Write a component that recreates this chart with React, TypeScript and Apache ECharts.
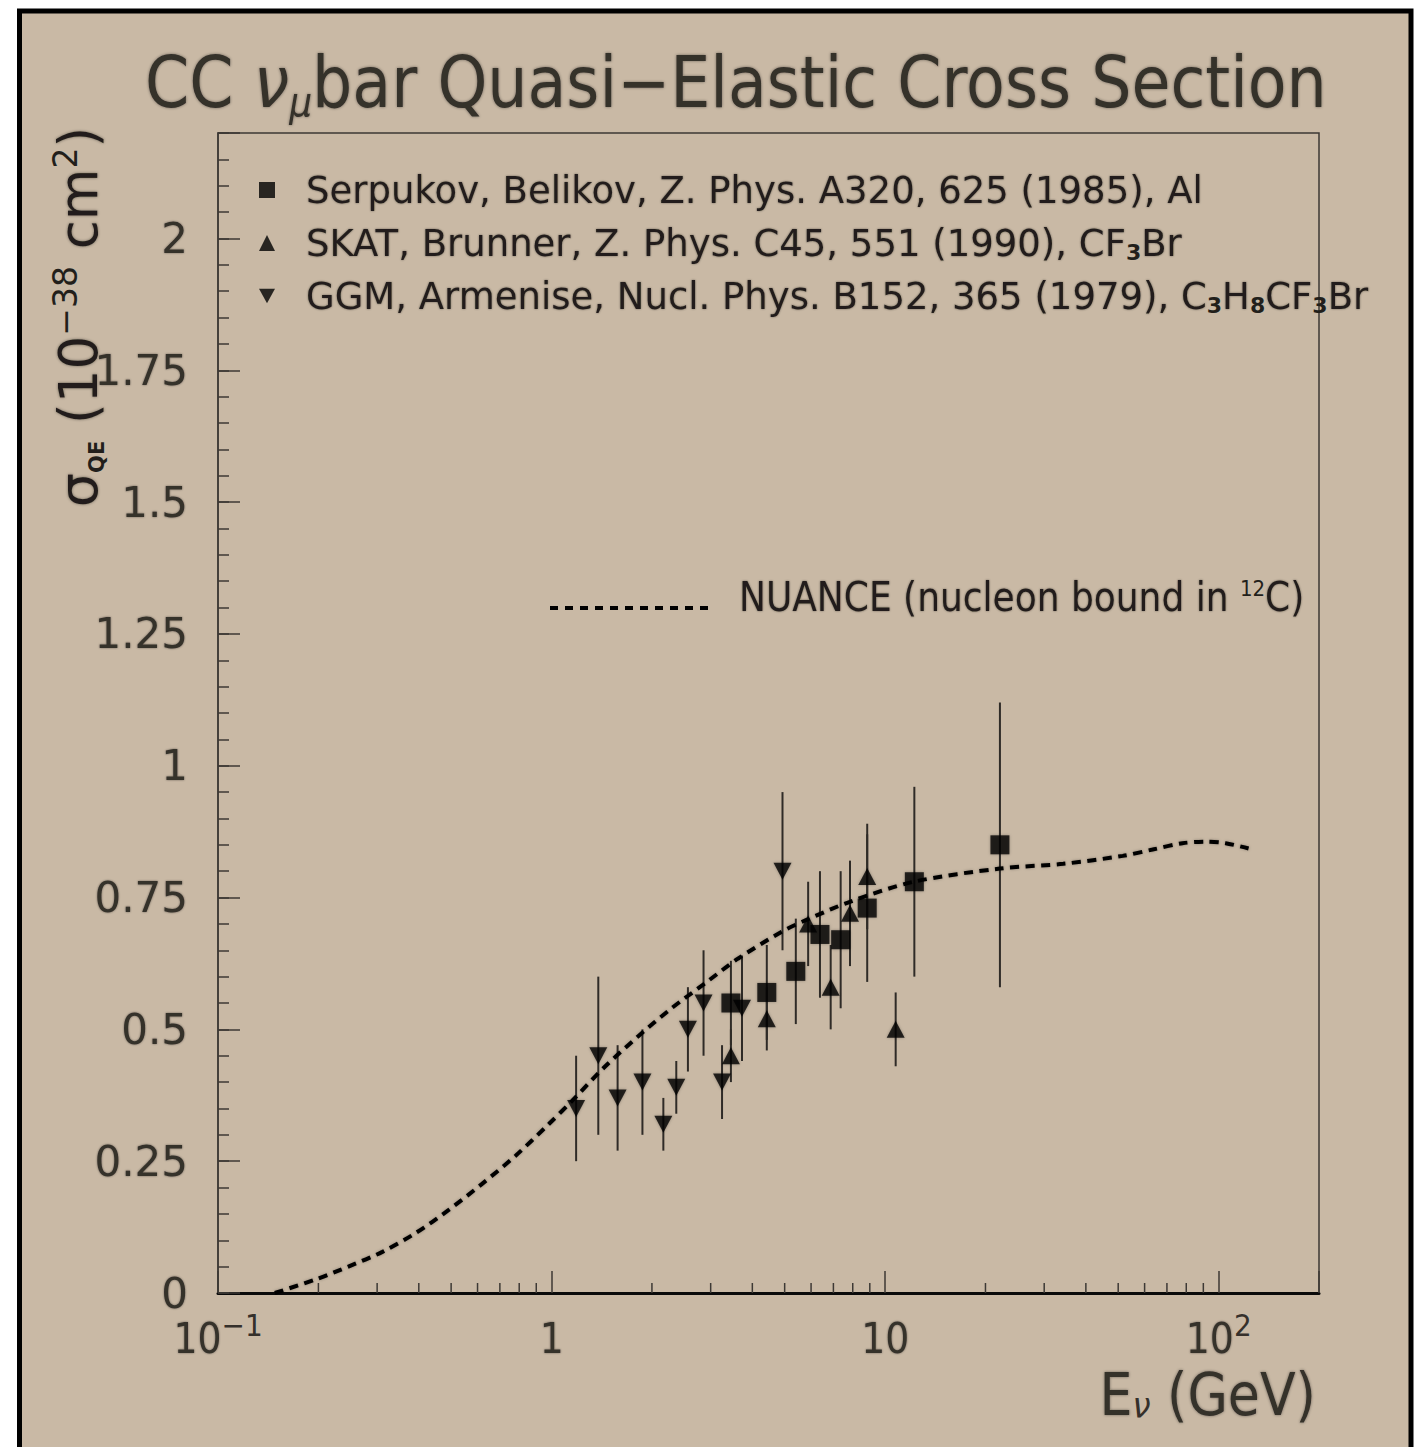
import React, { useEffect, useRef } from 'react';
import * as echarts from 'echarts';

// ---------- data ----------
const serpName = 'Serpukov, Belikov, Z. Phys. A320, 625 (1985), Al';
const skatName = 'SKAT, Brunner, Z. Phys. C45, 551 (1990), CF3Br';
const ggmName = 'GGM, Armenise, Nucl. Phys. B152, 365 (1979), C3H8CF3Br';
const nuanceName = 'NUANCE (nucleon bound in 12C)';

const serpE = [3.45, 4.42, 5.4, 6.38, 7.36, 8.84, 12.24, 22.1];
const serpS = [0.55, 0.57, 0.61, 0.68, 0.67, 0.73, 0.78, 0.85];
const serpErr = [0.08, 0.09, 0.1, 0.12, 0.13, 0.14, 0.18, 0.27];

const skatE = [3.45, 4.42, 5.88, 6.87, 7.85, 8.84, 10.76];
const skatS = [0.45, 0.52, 0.7, 0.58, 0.72, 0.79, 0.5];
const skatErr = [0.05, 0.06, 0.08, 0.08, 0.1, 0.1, 0.07];

const ggmE = [1.185, 1.381, 1.578, 1.873, 2.164, 2.366, 2.564, 2.856, 3.245, 3.724, 4.926];
const ggmS = [0.35, 0.45, 0.37, 0.4, 0.32, 0.39, 0.5, 0.55, 0.4, 0.54, 0.8];
const ggmErr = [0.1, 0.15, 0.1, 0.1, 0.05, 0.05, 0.08, 0.1, 0.07, 0.1, 0.15];

const nuanceE = [0.148, 0.197, 0.248, 0.311, 0.392, 0.493, 0.619, 0.779, 0.98, 1.15, 1.45, 1.82, 2.29, 2.88, 3.62, 4.93, 5.88, 7.85, 12.2, 22.1, 34.2, 51.6, 63.4, 77.9, 91.4, 105, 123];
const nuanceS = [0, 0.026, 0.051, 0.078, 0.114, 0.158, 0.207, 0.26, 0.32, 0.364, 0.43, 0.487, 0.54, 0.587, 0.634, 0.686, 0.709, 0.742, 0.78, 0.805, 0.814, 0.829, 0.841, 0.853, 0.856, 0.853, 0.843];

const xMinorTicks = [0.2, 0.3, 0.4, 0.5, 0.6, 0.7, 0.8, 0.9, 2, 3, 4, 5, 6, 7, 8, 9, 20, 30, 40, 50, 60, 70, 80, 90];
const xLabelValues = [0.1, 1, 10, 100];
const xLabels = ['{h| }{b|10}{s|−1}', '{h| }{b|1}', '{h| }{b|10}', '{h| }{b|10}{s|2}'];
const yLabels = ['0', '0.25', '0.5', '0.75', '1', '1.25', '1.5', '1.75', '2'];

const legendText: Record<string, string> = {
  [serpName]: '{t|Serpukov, Belikov, Z. Phys. A320, 625 (1985), Al}',
  [skatName]: '{t|SKAT, Brunner, Z. Phys. C45, 551 (1990), CF}{sub|3}{t|Br}',
  [ggmName]: '{t|GGM, Armenise, Nucl. Phys. B152, 365 (1979), C}{sub|3}{t|H}{sub|8}{t|CF}{sub|3}{t|Br}',
  [nuanceName]: '{n|NUANCE (nucleon bound in }{sup|12}{n|C)}',
};

// ---------- styles ----------
const WIDE = '"DejaVu Sans", Verdana, sans-serif';
const NARROW = '"DejaVu Sans Condensed", "Liberation Sans Narrow", "Liberation Sans", sans-serif';
const INK = '#221f1b';
const TINK = '#35302b';
const SH = 'rgba(30,20,10,0.45)';
const BG = '#c9b9a5';

export default function App() {
  const ref = useRef<HTMLDivElement>(null);
  useEffect(() => {
    if (!ref.current) return;
    const chart = echarts.init(ref.current, null, { renderer: 'svg' });

    const zip = (xs: number[], ys: number[]) => xs.map((x, i) => [x, ys[i]]);
    const errs = (xs: number[], ys: number[], es: number[]) => xs.map((x, i) => [x, ys[i] - es[i], ys[i] + es[i]]);
    const errData = [...errs(serpE, serpS, serpErr), ...errs(skatE, skatS, skatErr), ...errs(ggmE, ggmS, ggmErr)];

    const markerStyle = { color: '#000000', shadowBlur: 3, shadowColor: 'rgba(0,0,0,0.35)' };

    const option: any = {
      animation: false,
      backgroundColor: '#ffffff',
      title: {
        text: '{a|CC }{nu|ν}{mu|μ}{a|bar Quasi−Elastic Cross Section}',
        left: 145,
        top: 44,
        padding: 0,
        textStyle: {
          fontWeight: 'normal',
          rich: {
            a: { fontFamily: NARROW, fontWeight: 'normal', fontSize: 70.5, lineHeight: 78, color: TINK, textShadowBlur: 3, textShadowColor: SH },
            nu: { fontFamily: NARROW, fontWeight: 'normal', fontSize: 70.5, lineHeight: 78, fontStyle: 'italic', color: TINK, textShadowBlur: 3, textShadowColor: SH },
            mu: { fontFamily: NARROW, fontWeight: 'normal', fontSize: 40, lineHeight: 22, verticalAlign: 'bottom', fontStyle: 'italic', color: TINK, textShadowBlur: 3, textShadowColor: SH },
          },
        },
      },
      graphic: [
        {
          type: 'rect', z: -100, silent: true,
          shape: { x: 19.5, y: 11, width: 1391.5, height: 1500 },
          style: { fill: BG, stroke: '#000', lineWidth: 5 },
        },
        {
          type: 'text', x: 78, y: 317, rotation: Math.PI / 2, z: 10,
          style: {
            text: '{s|σ}{sub|QE}{n| (10}{sup|−38}{n| cm}{sup|2}{n|)}',
            align: 'center', verticalAlign: 'middle',
            rich: {
              s: { fontFamily: WIDE, fontSize: 54, lineHeight: 58, fill: INK, textShadowBlur: 3, textShadowColor: SH },
              n: { fontFamily: WIDE, fontSize: 53, lineHeight: 58, fill: INK, textShadowBlur: 3, textShadowColor: SH },
              sub: { fontFamily: WIDE, fontSize: 21, lineHeight: 24, verticalAlign: 'bottom', fill: INK, fontWeight: 'bold' },
              sup: { fontFamily: WIDE, fontSize: 33, lineHeight: 26, verticalAlign: 'top', fill: INK },
            },
          },
        },
        {
          type: 'text', x: 1316, y: 1395, z: 10,
          style: {
            text: '{e|E}{sub|ν}{e| (GeV)}',
            align: 'right', verticalAlign: 'middle',
            rich: {
              e: { fontFamily: NARROW, fontSize: 58, lineHeight: 56, fill: TINK, textShadowBlur: 3, textShadowColor: SH },
              sub: { fontFamily: NARROW, fontSize: 36, lineHeight: 20, verticalAlign: 'bottom', fontStyle: 'italic', fill: TINK },
            },
          },
        },
      ],
      legend: [
        {
          data: [serpName, skatName, ggmName],
          orient: 'vertical',
          left: 259,
          top: 170,
          padding: 0,
          itemWidth: 16,
          itemHeight: 16,
          itemGap: 13,
          selectedMode: false,
          formatter: (n: string) => legendText[n],
          textStyle: {
            padding: [0, 0, 0, 26],
            lineHeight: 40,
            rich: {
              t: { fontFamily: WIDE, fontSize: 37, lineHeight: 40, color: INK, textShadowBlur: 2, textShadowColor: SH },
              sub: { fontFamily: WIDE, fontSize: 22, lineHeight: 18, verticalAlign: 'bottom', color: INK, fontWeight: 'bold' },
            },
          },
        },
        {
          data: [nuanceName],
          orient: 'vertical',
          left: 548,
          top: 577,
          padding: 0,
          itemWidth: 163,
          itemHeight: 10,
          selectedMode: false,
          itemStyle: { color: 'rgba(0,0,0,0)', borderWidth: 0, opacity: 0 },
          lineStyle: { color: '#000', width: 4, type: [8, 7] },
          formatter: (n: string) => legendText[n],
          textStyle: {
            padding: [0, 0, 22, 21],
            lineHeight: 40,
            rich: {
              n: { fontFamily: NARROW, fontSize: 40, lineHeight: 40, color: INK, textShadowBlur: 2, textShadowColor: SH },
              sup: { fontFamily: NARROW, fontSize: 22, lineHeight: 20, verticalAlign: 'top', color: INK },
            },
          },
        },
      ],
      grid: {
        left: 218, top: 133, right: 95, bottom: 154,
        show: true, borderColor: '#3d3935', borderWidth: 1.5, backgroundColor: 'transparent',
      },
      xAxis: {
        type: 'log', logBase: 10, min: 0.1, max: 200,
        axisLine: { show: true, onZero: false, lineStyle: { color: '#0a0a0a', width: 3 } },
        axisTick: { show: true, inside: true, length: 22, lineStyle: { color: '#3d3935', width: 1.5 } },
        splitLine: { show: false },
        axisLabel: {
          margin: 16,
          formatter: (v: number) => {
            const i = xLabelValues.findIndex((t) => Math.abs(t - v) / t < 1e-6);
            return i >= 0 ? xLabels[i] : '';
          },
          rich: {
            h: { fontSize: 1, lineHeight: 50 },
            b: { fontFamily: NARROW, fontSize: 42, lineHeight: 34, verticalAlign: 'bottom', color: TINK, textShadowBlur: 2, textShadowColor: SH },
            s: { fontFamily: NARROW, fontSize: 31, lineHeight: 22, verticalAlign: 'top', color: TINK },
          },
        },
      },
      yAxis: [
        {
          type: 'value', min: 0, max: 2.2, interval: 0.25,
          axisLine: { show: true, lineStyle: { color: '#3d3935', width: 1.5 } },
          axisTick: { show: true, inside: true, length: 22, lineStyle: { color: '#3d3935', width: 1.5 } },
          splitLine: { show: false },
          axisLabel: {
            margin: 30,
            fontFamily: WIDE, fontSize: 42, color: TINK, textShadowBlur: 2, textShadowColor: SH,
            formatter: (v: number) => {
              const i = Math.round(v / 0.25);
              return Math.abs(v - i * 0.25) < 1e-6 && i < yLabels.length ? yLabels[i] : '';
            },
          },
        },
        {
          type: 'value', min: 0, max: 2.2, interval: 0.05, position: 'left', offset: 0,
          axisLine: { show: false },
          axisTick: { show: true, inside: true, length: 11, lineStyle: { color: '#3d3935', width: 1.5 } },
          axisLabel: { show: false },
          splitLine: { show: false },
        },
      ],
      series: [
        {
          name: 'xminor', type: 'custom', silent: true, clip: false, z: 1,
          data: xMinorTicks.map((v) => [v, 0]),
          encode: { x: 0, y: 1 },
          renderItem: (_p: any, api: any) => {
            const p = api.coord([api.value(0), 0]);
            return { type: 'line', shape: { x1: p[0], y1: p[1], x2: p[0], y2: p[1] - 10 }, style: { stroke: '#3d3935', lineWidth: 1.5 } };
          },
        },
        {
          name: 'errors', type: 'custom', silent: true, z: 2,
          data: errData,
          encode: { x: 0, y: [1, 2] },
          renderItem: (_p: any, api: any) => {
            const a = api.coord([api.value(0), api.value(1)]);
            const b = api.coord([api.value(0), api.value(2)]);
            return { type: 'line', shape: { x1: a[0], y1: a[1], x2: b[0], y2: b[1] }, style: { stroke: '#2f2b27', lineWidth: 2 } };
          },
        },
        {
          name: nuanceName, type: 'line', smooth: 0.3, symbol: 'none', z: 3,
          data: zip(nuanceE, nuanceS),
          lineStyle: { color: '#000', width: 4, type: [9, 6.5], shadowBlur: 3, shadowColor: 'rgba(0,0,0,0.3)' },
          itemStyle: { color: '#000' },
        },
        {
          name: serpName, type: 'scatter', symbol: 'rect', symbolSize: 19, z: 4,
          data: zip(serpE, serpS), itemStyle: markerStyle,
        },
        {
          name: skatName, type: 'scatter', symbol: 'triangle', symbolSize: [18, 17], z: 4,
          data: zip(skatE, skatS), itemStyle: markerStyle,
        },
        {
          name: ggmName, type: 'scatter', symbol: 'path://M0,0L20,0L10,18Z', symbolSize: [18, 17], z: 4,
          data: zip(ggmE, ggmS), itemStyle: markerStyle,
        },
      ],
    };
    chart.setOption(option);
    return () => chart.dispose();
  }, []);
  return <div ref={ref} style={{ position: 'absolute', left: 0, top: 0, width: 1414, height: 1447 }} />;
}
